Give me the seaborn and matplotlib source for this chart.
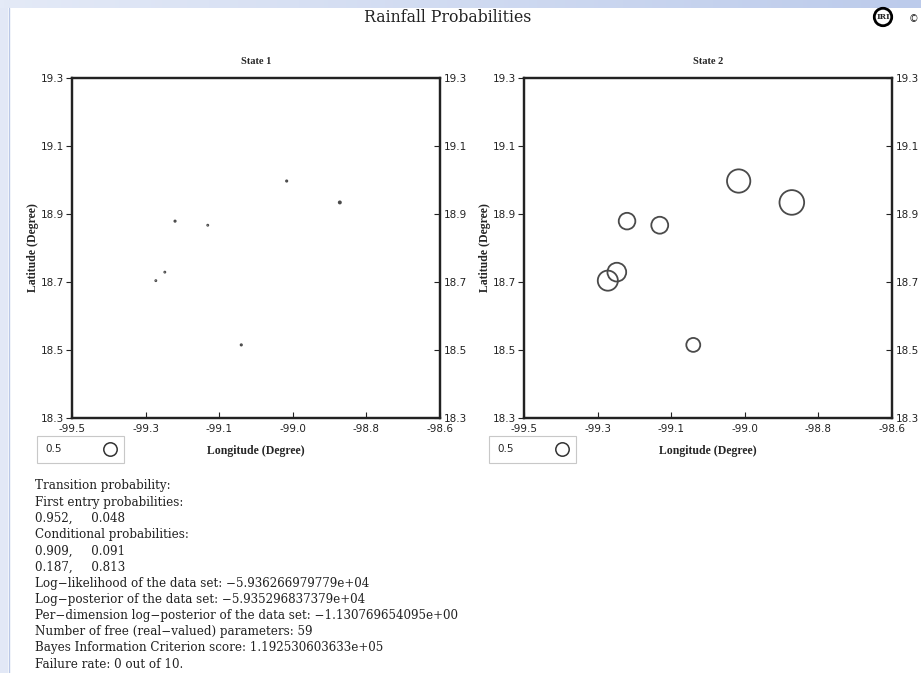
import numpy as np
import pandas as pd
import matplotlib.pyplot as plt
import seaborn as sns
from matplotlib.lines import Line2D
from matplotlib.patches import Rectangle

# station locations (same in both states)
lon = [-98.975, -98.845, -99.248, -99.168, -99.273, -99.295, -99.086]
lat = [18.997, 18.934, 18.879, 18.867, 18.729, 18.704, 18.515]
# rainfall probability of each station in each hidden state
prob_state1 = [0.05, 0.08, 0.05, 0.04, 0.04, 0.04, 0.05]
prob_state2 = [0.87, 0.92, 0.62, 0.63, 0.70, 0.75, 0.52]
state_names = ["State 1", "State 2"]

info_lines = [
    "Transition probability:",
    "First entry probabilities:",
    "0.952,     0.048",
    "Conditional probabilities:",
    "0.909,     0.091",
    "0.187,     0.813",
    "Log\u2212likelihood of the data set: \u22125.936266979779e+04",
    "Log\u2212posterior of the data set: \u22125.935296837379e+04",
    "Per\u2212dimension log\u2212posterior of the data set: \u22121.130769654095e+00",
    "Number of free (real\u2212valued) parameters: 59",
    "Bayes Information Criterion score: 1.192530603633e+05",
    "Failure rate: 0 out of 10.",
]

sns.set_theme(style="white")
plt.rcParams['font.family'] = ['DejaVu Sans']
plt.rcParams['axes.unicode_minus'] = False

W, H, DPI = 921, 673, 100
fig = plt.figure(figsize=(W / DPI, H / DPI), dpi=DPI)
fig.patch.set_facecolor('white')

# page decoration: blue band on top, strip on the left
band = fig.add_axes([0, 1 - 8 / H, 1, 8 / H])
band.imshow(np.linspace(0, 1, 256)[None, :], aspect='auto',
            cmap=sns.blend_palette(['#e4eaf7', '#bccbeb'], as_cmap=True))
band.axis('off')
fig.patches.append(Rectangle((0, 0), 8 / W, 1 - 8 / H, transform=fig.transFigure,
                             facecolor='#e2e8f6', edgecolor='none', zorder=0))
fig.add_artist(Line2D([8.5 / W, 8.5 / W], [0, 1 - 8 / H], color='#b9c7e6', lw=1))

fig.text(448 / W, 1 - 18 / H, "Rainfall Probabilities", ha='center', va='center',
         family='DejaVu Serif', fontstretch='condensed', fontsize=12.6, color='#222')
fig.text(883 / W, 1 - 17 / H, "IRI", ha='center', va='center', fontsize=5.5,
         family='DejaVu Serif', weight='bold',
         bbox=dict(boxstyle='circle,pad=0.25', fc='white', ec='black', lw=2))
fig.text(913 / W, 1 - 19 / H, "\u00a9", ha='center', va='center', fontsize=7)

px_per_prob = 26.8   # marker diameter in pixels for probability 1


def area(p):
    return (px_per_prob * np.asarray(p) * 72 / DPI) ** 2


xticks = np.linspace(-99.5, -98.6, 6)
yticks = np.arange(18.3, 19.31, 0.2)
lefts = [72, 524]
for i, probs in enumerate([prob_state1, prob_state2]):
    ax = fig.add_axes([lefts[i] / W, 1 - 418 / H, 368 / W, 340 / H])
    df = pd.DataFrame({'lon': lon, 'lat': lat, 'p': probs})
    sns.scatterplot(data=df, x='lon', y='lat', s=area(df['p']), marker='o',
                    ax=ax, legend=False)
    ax.collections[0].set_facecolor('none')
    ax.collections[0].set_edgecolor('#4a4a4a')
    ax.collections[0].set_linewidth(1.3)
    ax.set_xlim(-99.5, -98.6)
    ax.set_ylim(18.3, 19.3)
    ax.set_xticks(xticks)
    ax.set_xticklabels(['%.1f' % v for v in xticks])
    ax.set_yticks(yticks)
    ax.set_yticklabels(['%.1f' % v for v in yticks])
    ax.tick_params(axis='x', direction='in', length=4, width=0.8, labelsize=7.5,
                   pad=4, colors='#222', bottom=True)
    ax.tick_params(axis='y', direction='out', length=4, width=0.8, labelsize=7.5,
                   pad=2, colors='#222', left=True)
    axr = ax.twinx()
    axr.set_ylim(18.3, 19.3)
    axr.set_yticks(yticks)
    axr.set_yticklabels(['%.1f' % v for v in yticks])
    axr.tick_params(axis='y', direction='in', length=4, width=0.8, labelsize=7.5,
                    pad=3, colors='#222', right=True)
    for a in (ax, axr):
        for sp in a.spines.values():
            sp.set_linewidth(1.6)
            sp.set_color('#222')
    ax.set_xlabel("Longitude (Degree)", family='Liberation Serif', weight='bold',
                  fontsize=8.5, labelpad=8)
    ax.set_ylabel("Latitude (Degree)", family='Liberation Serif', weight='bold',
                  fontsize=8.5, labelpad=1)
    ax.set_title(state_names[i], family='Liberation Serif', weight='bold',
                 fontsize=7.5, pad=10)
    handle = Line2D([], [], marker='o', ls='none', mfc='none', mec='#333',
                    mew=1.1, ms=px_per_prob * 0.5 * 72 / DPI)
    leg = ax.legend([handle], ['0.5'], loc='upper left',
                    bbox_to_anchor=((lefts[i] - 35) / W, 1 - 436 / H),
                    bbox_transform=fig.transFigure, markerfirst=False,
                    fancybox=False, framealpha=1, edgecolor='#c8c8c8',
                    fontsize=7.5, handletextpad=4.0, handlelength=1.2,
                    borderpad=0.8, borderaxespad=0)
    leg.get_frame().set_linewidth(0.8)
    leg.set_zorder(10)

for k, line in enumerate(info_lines):
    fig.text(35 / W, 1 - (486 + k * 16.2) / H, line, ha='left', va='center',
             family='DejaVu Serif', fontsize=8.6, color='#222')

plt.savefig("out.png", dpi=DPI)
